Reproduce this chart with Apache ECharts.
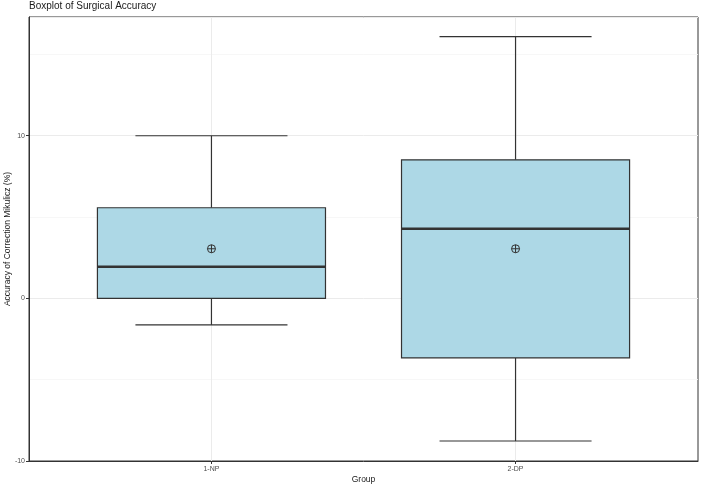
<!DOCTYPE html>
<html>
<head>
<meta charset="utf-8">
<script src="https://cdn.jsdelivr.net/npm/echarts@6/dist/echarts.min.js"></script>
<style>
  html, body { margin: 0; padding: 0; background: #fff; }
  #chart { width: 702px; height: 487px; }
</style>
</head>
<body>
<div id="chart"></div>
<script>
// groups and box statistics
var groups = ['1-NP', '2-DP'];
var lowWhisker = [-1.63, -8.77];
var q1 = [0.0, -3.66];
var median = [1.94, 4.28];
var q3 = [5.57, 8.52];
var highWhisker = [10.0, 16.09];
var means = [3.05, 3.05];
var yTicks = [-10, 0, 10];

var boxData = groups.map(function (g, i) {
  return [i + 1, lowWhisker[i], q1[i], median[i], q3[i], highWhisker[i], means[i]];
});

var lineCol = '#333333';
var boxFill = '#ADD8E6';

function renderBox(params, api) {
  var x = api.value(0);
  var halfBox = 0.375, halfCap = 0.25;
  var pLow = api.coord([x, api.value(1)]);
  var pQ1 = api.coord([x, api.value(2)]);
  var pMed = api.coord([x, api.value(3)]);
  var pQ3 = api.coord([x, api.value(4)]);
  var pHigh = api.coord([x, api.value(5)]);
  var pMean = api.coord([x, api.value(6)]);
  var boxL = api.coord([x - halfBox, 0])[0];
  var boxR = api.coord([x + halfBox, 0])[0];
  var capL = api.coord([x - halfCap, 0])[0];
  var capR = api.coord([x + halfCap, 0])[0];
  var ls = { stroke: lineCol, lineWidth: 1.2 };
  var r = 4;
  return {
    type: 'group',
    children: [
      { type: 'line', shape: { x1: pHigh[0], y1: pHigh[1], x2: pQ3[0], y2: pQ3[1] }, style: ls },
      { type: 'line', shape: { x1: pLow[0], y1: pLow[1], x2: pQ1[0], y2: pQ1[1] }, style: ls },
      { type: 'line', shape: { x1: capL, y1: pHigh[1], x2: capR, y2: pHigh[1] }, style: ls },
      { type: 'line', shape: { x1: capL, y1: pLow[1], x2: capR, y2: pLow[1] }, style: ls },
      { type: 'rect', shape: { x: boxL, y: pQ3[1], width: boxR - boxL, height: pQ1[1] - pQ3[1] },
        style: { fill: boxFill, stroke: lineCol, lineWidth: 1.2 } },
      { type: 'line', shape: { x1: boxL, y1: pMed[1], x2: boxR, y2: pMed[1] },
        style: { stroke: lineCol, lineWidth: 2.6 } },
      { type: 'circle', shape: { cx: pMean[0], cy: pMean[1], r: r },
        style: { fill: null, stroke: lineCol, lineWidth: 1 } },
      { type: 'line', shape: { x1: pMean[0] - r, y1: pMean[1], x2: pMean[0] + r, y2: pMean[1] },
        style: { stroke: lineCol, lineWidth: 1 } },
      { type: 'line', shape: { x1: pMean[0], y1: pMean[1] - r, x2: pMean[0], y2: pMean[1] + r },
        style: { stroke: lineCol, lineWidth: 1 } }
    ]
  };
}

var chart = echarts.init(document.getElementById('chart'), null, { renderer: 'canvas' });
chart.setOption({
  animation: false,
  textStyle: { fontFamily: 'Liberation Sans, Arial, sans-serif' },
  title: {
    text: 'Boxplot of Surgical Accuracy',
    left: 29, top: 1, padding: 0,
    textStyle: { fontSize: 10, fontWeight: 'normal', color: '#1a1a1a' }
  },
  grid: {
    left: 29, right: 4, top: 17, bottom: 26,
    containLabel: false, outerBoundsMode: 'none',
    show: true, borderColor: lineCol, borderWidth: 1, backgroundColor: '#fff'
  },
  xAxis: {
    type: 'value', min: 0.4, max: 2.6,
    name: 'Group', nameLocation: 'middle', nameGap: 14, nameMoveOverlap: false,
    nameTextStyle: { fontSize: 8.5, color: '#1a1a1a' },
    axisLine: { show: true, onZero: false, lineStyle: { color: lineCol, width: 1 } },
    axisTick: { show: true, length: 3, customValues: [1, 2], lineStyle: { color: lineCol } },
    axisLabel: {
      customValues: [1, 2], fontSize: 7, color: '#4d4d4d', margin: 5,
      formatter: function (v) { return groups[Math.round(v) - 1]; }
    },
    splitLine: { show: true, lineStyle: { color: '#ebebeb', width: 1 } }
  },
  yAxis: {
    type: 'value', min: -10, max: 17.3, interval: 10,
    name: 'Accuracy of Correction Mikulicz (%)', nameLocation: 'middle', nameGap: 17, nameMoveOverlap: false,
    nameTextStyle: { fontSize: 8.5, color: '#1a1a1a' },
    axisLine: { show: true, onZero: false, lineStyle: { color: lineCol, width: 1 } },
    axisTick: { show: true, length: 3, lineStyle: { color: lineCol } },
    axisLabel: {
      fontSize: 7, color: '#4d4d4d', margin: 4, showMaxLabel: false,
      formatter: function (v) { return yTicks.indexOf(v) >= 0 ? String(v) : ''; }
    },
    splitLine: { show: true, lineStyle: { color: '#ebebeb', width: 1 } },
    minorTick: { show: false, splitNumber: 2 },
    minorSplitLine: { show: true, lineStyle: { color: '#f5f5f5', width: 0.8 } }
  },
  series: [{
    type: 'custom',
    renderItem: renderBox,
    encode: { x: 0, y: [1, 5] },
    data: boxData,
    z: 5
  }]
});
</script>
</body>
</html>
